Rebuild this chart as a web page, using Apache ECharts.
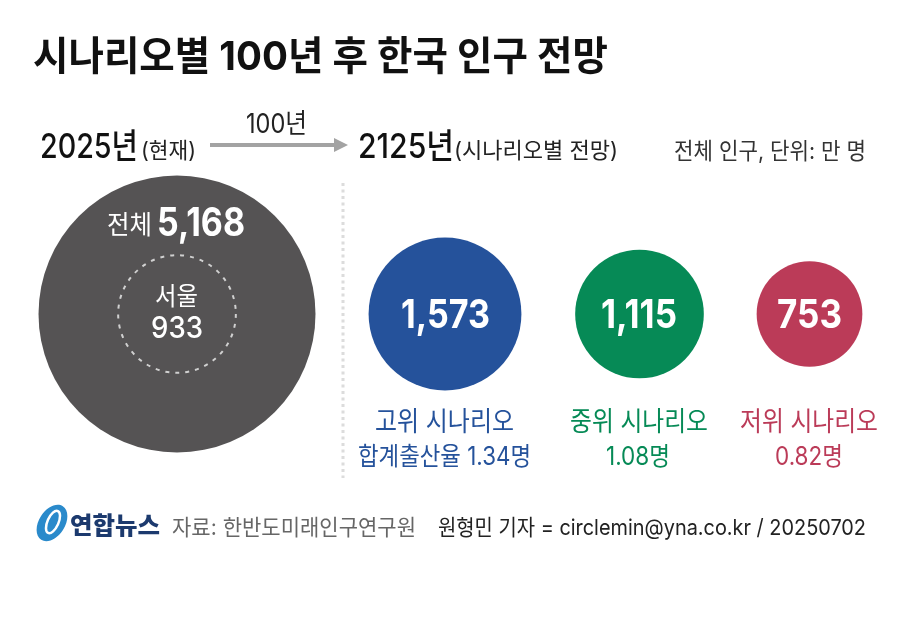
<!DOCTYPE html>
<html>
<head>
<meta charset="utf-8">
<script src="https://cdn.jsdelivr.net/npm/echarts@6/dist/echarts.min.js"></script>
<style>
html, body { margin: 0; background: #fff; }
#main { width: 900px; height: 638px; }
</style>
</head>
<body>
<div id="main"></div>
<script>
var FONT = 'Inter, "Noto Sans CJK KR", sans-serif';

// 값 (단위: 만 명)
var totalNow = 5168;
var seoulNow = 933;
var scenarioNames = ['고위 시나리오', '중위 시나리오', '저위 시나리오'];
var scenarioValues = [1573, 1115, 753];
var birthRates = ['합계출산율 1.34명', '1.08명', '0.82명'];

// 배치
var scenarioColors = ['#25529b', '#068a56', '#bb3b58'];
var scenarioX = [445, 639.5, 809.5];
var valueSpan = [[401, 490], [601, 677], [777, 842]];
var nameSpan = [[375, 514], [570, 708], [740, 878]];
var rateSpan = [[358, 531], [606, 670], [775, 843]];
var CIRCLE_Y = 314;
var TOTAL_X = 177;
var TOTAL_D = 277;

// 면적이 값에 비례하도록
function diameter(v) {
    return TOTAL_D * Math.sqrt(v / totalNow);
}

function comma(v) {
    return v.toLocaleString('en-US');
}

var ctx = document.createElement('canvas').getContext('2d');

// 원본 글자 폭에 맞춰 가로 비율 조정
function label(text, left, right, y, size, weight, color) {
    var font = weight + ' ' + size + 'px ' + FONT;
    ctx.font = font;
    return {
        type: 'text',
        z: 10,
        x: left,
        y: y + 2,
        scaleX: (right - left) / ctx.measureText(text).width,
        style: {
            text: text,
            font: font,
            fill: color,
            textAlign: 'left',
            textVerticalAlign: 'middle'
        }
    };
}

var texts = [
    label('시나리오별 100년 후 한국 인구 전망', 33, 608, 56, 40, 700, '#111'),
    label('2025년', 40, 138, 146, 34, 500, '#111'),
    label('(현재)', 141, 196, 149, 22, 400, '#222'),
    label('100년', 246, 307, 123, 27, 400, '#222'),
    label('2125년', 358, 454, 146, 34, 500, '#111'),
    label('(시나리오별 전망)', 454, 618, 149, 22, 400, '#222'),
    label('전체 인구, 단위: 만 명', 674, 866, 150, 23, 400, '#333'),
    label('전체', 107, 152, 224, 26, 400, '#fff'),
    label(comma(totalNow), 157, 245, 222, 39, 700, '#fff'),
    label('서울', 155, 198, 295, 25, 400, '#fff'),
    label(String(seoulNow), 151, 203, 327, 30, 500, '#fff'),
    label('연합뉴스', 70, 160, 525, 24, 900, '#1c3a6e'),
    label('자료: 한반도미래인구연구원', 172, 416, 526, 22, 400, '#666'),
    label('원형민 기자 = circlemin@yna.co.kr / 20250702', 438, 866, 526, 22, 400, '#222')
];

scenarioNames.forEach(function (name, i) {
    texts.push(label(comma(scenarioValues[i]), valueSpan[i][0], valueSpan[i][1], 314, 40, 700, '#fff'));
    texts.push(label(name, nameSpan[i][0], nameSpan[i][1], 421, 27, 400, scenarioColors[i]));
    texts.push(label(birthRates[i], rateSpan[i][0], rateSpan[i][1], 455, 25, 400, scenarioColors[i]));
});

var decorations = [
    {   // 가운데 점선
        type: 'line',
        shape: { x1: 343, y1: 183, x2: 343, y2: 478 },
        style: { stroke: '#dcdcdc', lineWidth: 3, lineDash: [3, 3.5] }
    },
    {   // 화살표
        type: 'line',
        shape: { x1: 210, y1: 145, x2: 336, y2: 145 },
        style: { stroke: '#a3a3a3', lineWidth: 4 }
    },
    {
        type: 'polygon',
        shape: { points: [[334, 138], [348, 145], [334, 152]] },
        style: { fill: '#a3a3a3' }
    },
    {   // 로고
        type: 'ellipse',
        rotation: 1.0,
        x: 52,
        y: 523,
        shape: { cx: 0, cy: 0, rx: 20, ry: 13 },
        style: { fill: '#2a8acb' }
    },
    {
        type: 'ellipse',
        rotation: 1.15,
        x: 53,
        y: 522,
        shape: { cx: 0, cy: 0, rx: 12, ry: 5.5 },
        style: { fill: 'none', stroke: '#fff', lineWidth: 2.5 }
    }
];

var chart = echarts.init(document.getElementById('main'));
chart.setOption({
    backgroundColor: '#fff',
    animation: false,
    grid: { left: 0, right: 0, top: 0, bottom: 0 },
    xAxis: { type: 'value', min: 0, max: 900, show: false },
    yAxis: { type: 'value', min: 0, max: 638, inverse: true, show: false },
    series: [
        {
            name: '2025',
            type: 'scatter',
            silent: true,
            symbol: 'circle',
            itemStyle: { opacity: 1 },
            data: [{
                value: [TOTAL_X, CIRCLE_Y],
                symbolSize: diameter(totalNow),
                itemStyle: { color: '#555354' }
            }, {
                value: [TOTAL_X, CIRCLE_Y],
                symbolSize: diameter(seoulNow),
                itemStyle: {
                    color: 'transparent',
                    borderColor: '#d0d0d0',
                    borderWidth: 2,
                    borderType: [4, 6]
                }
            }]
        },
        {
            name: '2125',
            type: 'scatter',
            silent: true,
            symbol: 'circle',
            itemStyle: { opacity: 1 },
            data: scenarioValues.map(function (v, i) {
                return {
                    value: [scenarioX[i], CIRCLE_Y],
                    symbolSize: diameter(v),
                    itemStyle: { color: scenarioColors[i] }
                };
            })
        }
    ],
    graphic: { elements: decorations.concat(texts) }
});
</script>
</body>
</html>
